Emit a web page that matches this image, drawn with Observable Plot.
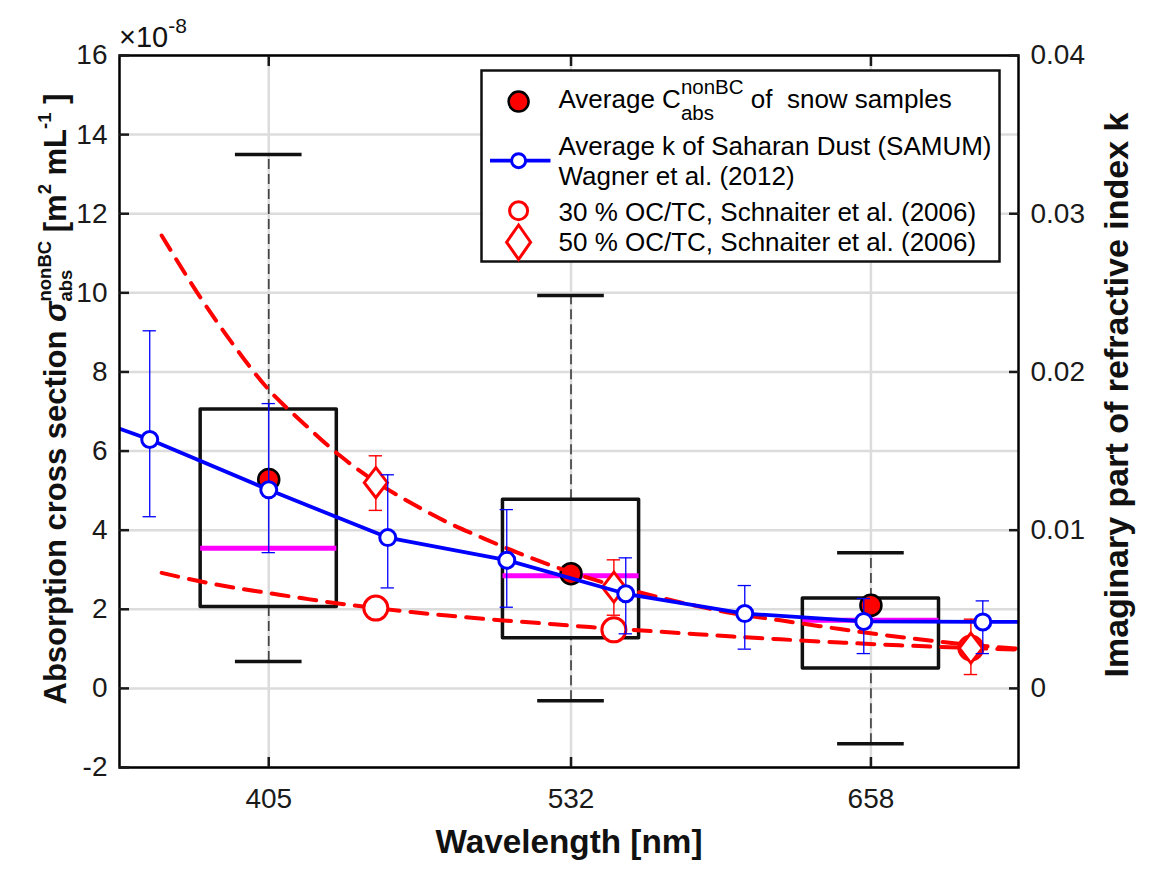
<!DOCTYPE html>
<html><head><meta charset="utf-8">
<script src="https://cdn.jsdelivr.net/npm/d3@7"></script>
<script src="https://cdn.jsdelivr.net/npm/@observablehq/plot@0.6"></script>
<style>
body{margin:0;background:#fff;}
svg text{white-space:pre;}
</style>
</head><body><div id="chart"></div>
<script>
// ---------- data ----------
const xTickWavelengths = [405, 532, 658];
const yTicks = [-2, 0, 2, 4, 6, 8, 10, 12, 14, 16];
const kTicks = [0, 0.01, 0.02, 0.03, 0.04];
const kTickLabels = ["0", "0.01", "0.02", "0.03", "0.04"];
const kPerUnit = 0.0025; // k per left-axis unit (1e-8 m2 mL-1)

// snow samples (x 1e-8 m2 mL-1)
const boxWl = [405, 532, 658];
const boxLow = [0.68, -0.31, -1.40];
const boxQ1 = [2.06, 1.27, 0.50];
const boxMedian = [3.54, 2.85, 1.72];
const boxQ3 = [7.05, 4.77, 2.27];
const boxHigh = [13.5, 9.93, 3.43];
const meanCabs = [5.28, 2.90, 2.10];

// SAMUM imaginary index k (Wagner et al. 2012)
const samumWl = [305, 355, 405, 455, 505, 555, 605, 655, 705, 755];
const samumK = [0.0184, 0.01573, 0.01255, 0.00953, 0.0081, 0.00598, 0.00473, 0.00423, 0.0042, 0.0042];
const samumKLo = [null, 0.01085, 0.00858, 0.00635, 0.00513, 0.00345, 0.00248, 0.0022, 0.0022, null];
const samumKHi = [null, 0.0226, 0.018, 0.0135, 0.0113, 0.00825, 0.0065, 0.00568, 0.00553, null];

// Schnaiter et al. (2006)
const schWl = [450, 550, 700];
const oc30 = [2.03, 1.48, 1.02];
const oc50 = [5.20, 2.56, 1.02];
const oc50Lo = [4.50, 1.85, 0.35];
const oc50Hi = [5.88, 3.25, 1.75];

// dashed fit curves
const fitWl = [360, 375, 390, 405, 420, 435, 450, 465, 480, 495, 510, 525, 540, 555, 570, 585, 600, 620, 645, 670, 695, 720];
const fit50 = [11.45, 10.0, 8.7, 7.55, 6.68, 5.88, 5.22, 4.68, 4.2, 3.8, 3.42, 3.08, 2.78, 2.52, 2.29, 2.08, 1.9, 1.72, 1.5, 1.3, 1.13, 1.0];
const fit30 = [2.92, 2.72, 2.55, 2.41, 2.27, 2.14, 2.03, 1.93, 1.84, 1.76, 1.69, 1.62, 1.55, 1.49, 1.43, 1.37, 1.31, 1.24, 1.16, 1.09, 1.03, 0.98];

// ---------- tables ----------
const boxes = boxWl.map((wl, i) => ({wl, low: boxLow[i], q1: boxQ1[i], median: boxMedian[i], q3: boxQ3[i], high: boxHigh[i], mean: meanCabs[i]}));
const samum = samumWl.map((wl, i) => ({wl, v: samumK[i] / kPerUnit, lo: samumKLo[i] == null ? null : samumKLo[i] / kPerUnit, hi: samumKHi[i] == null ? null : samumKHi[i] / kPerUnit}));
const samumPts = samum.filter(d => d.lo != null);
const sch = schWl.map((wl, i) => ({wl, v30: oc30[i], v50: oc50[i], lo: oc50Lo[i], hi: oc50Hi[i]}));
const fits = fitWl.map((wl, i) => ({wl, v50: fit50[i], v30: fit30[i]}));

// ---------- styles ----------
const boxHalf = 28.6, capHalf = 14, errCap = 2.8; // nm
const diamond = {draw(ctx, size) { const h = Math.sqrt(size / Math.PI), w = h * 0.77;
  ctx.moveTo(0, -h); ctx.lineTo(w, 0); ctx.lineTo(0, h); ctx.lineTo(-w, 0); ctx.closePath(); }};
const dash = "17,11";
const font = "'Liberation Sans', Arial, Helvetica, sans-serif";

const svg = Plot.plot({
  width: 1151, height: 873,
  marginLeft: 119, marginRight: 133, marginTop: 55, marginBottom: 106,
  x: {type: "linear", domain: [342.3, 720]},
  y: {domain: [-2, 16]},
  style: {fontFamily: font, fontSize: "28px", color: "#1a1a1a", background: "#fff", overflow: "visible"},
  marks: [
    Plot.gridY({ticks: yTicks, stroke: "#dcdcdc", strokeOpacity: 1, strokeWidth: 2.5}),
    Plot.gridX({ticks: xTickWavelengths, stroke: "#dcdcdc", strokeOpacity: 1, strokeWidth: 2.5}),
    // box plots
    Plot.ruleX(boxes, {x: "wl", y1: "q3", y2: "high", stroke: "#444", strokeWidth: 1.7, strokeDasharray: "10,5"}),
    Plot.ruleX(boxes, {x: "wl", y1: "low", y2: "q1", stroke: "#444", strokeWidth: 1.7, strokeDasharray: "10,5"}),
    Plot.ruleY(boxes, {y: "high", x1: d => d.wl - capHalf, x2: d => d.wl + capHalf, stroke: "#111", strokeWidth: 3.5}),
    Plot.ruleY(boxes, {y: "low", x1: d => d.wl - capHalf, x2: d => d.wl + capHalf, stroke: "#111", strokeWidth: 3.5}),
    Plot.rect(boxes, {x1: d => d.wl - boxHalf, x2: d => d.wl + boxHalf, y1: "q1", y2: "q3", fill: "none", stroke: "#111", strokeWidth: 3.5, strokeLinejoin: "round"}),
    Plot.ruleY(boxes, {y: "median", x1: d => d.wl - boxHalf, x2: d => d.wl + boxHalf, stroke: "#ff00ff", strokeWidth: 5}),
    Plot.dot(boxes, {x: "wl", y: "mean", r: 10.5, fill: "#ff0000", stroke: "#000", strokeWidth: 2.5}),
    // Schnaiter fits and data
    Plot.line(fits, {x: "wl", y: "v50", stroke: "#ff0000", strokeWidth: 4, strokeDasharray: dash, curve: "catmull-rom", clip: true}),
    Plot.line(fits, {x: "wl", y: "v30", stroke: "#ff0000", strokeWidth: 4, strokeDasharray: dash, curve: "catmull-rom", clip: true}),
    Plot.ruleX(sch, {x: "wl", y1: "lo", y2: "hi", stroke: "#ff0000", strokeWidth: 1.4}),
    Plot.ruleY(sch, {y: "lo", x1: d => d.wl - errCap, x2: d => d.wl + errCap, stroke: "#ff0000", strokeWidth: 1.4}),
    Plot.ruleY(sch, {y: "hi", x1: d => d.wl - errCap, x2: d => d.wl + errCap, stroke: "#ff0000", strokeWidth: 1.4}),
    Plot.dot(sch, {x: "wl", y: "v30", r: 12, fill: "#fff", stroke: "#ff0000", strokeWidth: 3}),
    Plot.dot(sch, {x: "wl", y: "v50", r: 15, symbol: diamond, fill: "#fff", stroke: "#ff0000", strokeWidth: 3}),
    // SAMUM
    Plot.line(samum, {x: "wl", y: "v", stroke: "#0000ff", strokeWidth: 3.8, clip: true}),
    Plot.ruleX(samumPts, {x: "wl", y1: "lo", y2: "hi", stroke: "#0000ff", strokeWidth: 1.3}),
    Plot.ruleY(samumPts, {y: "lo", x1: d => d.wl - errCap, x2: d => d.wl + errCap, stroke: "#0000ff", strokeWidth: 1.3}),
    Plot.ruleY(samumPts, {y: "hi", x1: d => d.wl - errCap, x2: d => d.wl + errCap, stroke: "#0000ff", strokeWidth: 1.3}),
    Plot.dot(samumPts, {x: "wl", y: "v", r: 8, fill: "#fff", stroke: "#0000ff", strokeWidth: 3}),
    // frame and axes
    Plot.frame({stroke: "#000", strokeWidth: 2.5}),
    Plot.axisY({anchor: "left", ticks: yTicks, tickSize: -10, tickPadding: 22, strokeWidth: 2.5, tickFormat: d => String(d), label: null, fontSize: 28}),
    Plot.axisY({anchor: "right", ticks: kTicks.map(k => Math.round(k / kPerUnit * 1e6) / 1e6), tickSize: -10, tickPadding: 22, strokeWidth: 2.5,
      tickFormat: d => kTickLabels[kTicks.findIndex(k => Math.abs(k / kPerUnit - d) < 1e-6)], label: null, fontSize: 28}),
    Plot.axisX({anchor: "bottom", ticks: xTickWavelengths, tickSize: -10, tickPadding: 31, strokeWidth: 2.5, tickFormat: d => String(d), label: null, fontSize: 28}),
    Plot.axisX({anchor: "top", ticks: xTickWavelengths, tickSize: -10, strokeWidth: 2.5, fill: "none", label: null})
  ]
});
document.getElementById("chart").appendChild(svg);

// ---------- rich text helper ----------
const root = d3.select(svg);
function rich(pieces, {x, y, anchor = "start", rotate = 0, fill = "#111"}) {
  const g = root.append("g").attr("transform", `translate(${x},${y}) rotate(${rotate})`)
    .attr("font-family", font).attr("fill", fill).attr("text-anchor", "start");
  const items = pieces.map(p => {
    const t = g.append("text").attr("xml:space", "preserve").attr("text-anchor", "start").text(p.text)
      .attr("font-size", p.size).attr("font-weight", p.weight || "normal")
      .attr("font-style", p.style || "normal").attr("y", p.dy || 0);
    return {t, p, w: t.node().getComputedTextLength()};
  });
  let pos = 0, start = 0, prevW = 0;
  for (const it of items) {
    if (it.p.stack) { it.x = start; const m = Math.max(prevW, it.w); pos = start + m; prevW = m; }
    else { it.x = pos; start = pos; prevW = it.w; pos += it.w; }
  }
  const off = anchor === "middle" ? -pos / 2 : anchor === "end" ? -pos : 0;
  for (const it of items) it.t.attr("x", it.x + off);
  return g;
}

// exponent
rich([{text: "×10", size: 29}, {text: "-8", size: 21, dy: -14}], {x: 119, y: 47});

// axis titles
rich([{text: "Wavelength [nm]", size: 33.3, weight: "bold"}], {x: 569, y: 853, anchor: "middle"});
rich([{text: "Imaginary part of refractive index k", size: 34, weight: "bold"}], {x: 1128, y: 395, anchor: "middle", rotate: -90});
const L = 31, S = 18.5;
rich([
  {text: "Absorption cross section ", size: L, weight: "bold"},
  {text: "σ", size: L, style: "italic", weight: "bold"},
  {text: "nonBC", size: S, weight: "bold", dy: -15},
  {text: "abs", size: S, weight: "bold", dy: 6, stack: true},
  {text: " [m", size: L, weight: "bold"},
  {text: "2", size: S, weight: "bold", dy: -15},
  {text: " mL", size: L, weight: "bold"},
  {text: "-1", size: S, weight: "bold", dy: -15},
  {text: " ]", size: L, weight: "bold"}
], {x: 66, y: 399, anchor: "middle", rotate: -90});

// ---------- legend ----------
const lg = root.append("g");
lg.append("rect").attr("x", 481.5).attr("y", 70.5).attr("width", 518).attr("height", 191)
  .attr("fill", "#fff").attr("stroke", "#111").attr("stroke-width", 2.5);
const mx = 518.6;
lg.append("circle").attr("cx", mx).attr("cy", 101.6).attr("r", 10).attr("fill", "#ff0000").attr("stroke", "#000").attr("stroke-width", 2.5);
lg.append("line").attr("x1", 490).attr("x2", 550.5).attr("y1", 160.7).attr("y2", 160.7).attr("stroke", "#0000ff").attr("stroke-width", 3.8);
lg.append("circle").attr("cx", mx).attr("cy", 160.7).attr("r", 7).attr("fill", "#fff").attr("stroke", "#0000ff").attr("stroke-width", 3);
lg.append("circle").attr("cx", mx).attr("cy", 210.7).attr("r", 9).attr("fill", "#fff").attr("stroke", "#ff0000").attr("stroke-width", 3);
lg.append("path").attr("d", `M${mx},225 L${mx + 12},242.2 L${mx},259.4 L${mx - 12},242.2 Z`).attr("fill", "#fff").attr("stroke", "#ff0000").attr("stroke-width", 3);
const LF = 26, LS = 20.5, tx = 558.5;
rich([{text: "Average C", size: LF}, {text: "nonBC", size: LS, dy: -13.5}, {text: "abs", size: LS, dy: 12.5, stack: true}, {text: " of  snow samples", size: LF}], {x: tx, y: 107.6, fill: "#000"});
rich([{text: "Average k of Saharan Dust (SAMUM)", size: LF}], {x: tx, y: 155, fill: "#000"});
rich([{text: "Wagner et al. (2012)", size: LF}], {x: tx, y: 185.4, fill: "#000"});
rich([{text: "30 % OC/TC, Schnaiter et al. (2006)", size: LF}], {x: tx, y: 220.9, fill: "#000"});
rich([{text: "50 % OC/TC, Schnaiter et al. (2006)", size: LF}], {x: tx, y: 251.3, fill: "#000"});
</script>
</body></html>
